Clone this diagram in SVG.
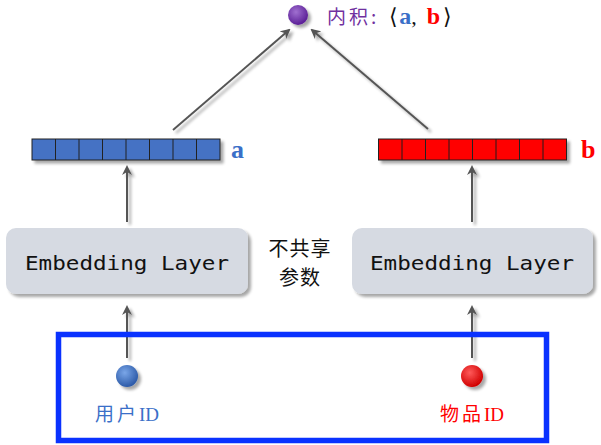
<svg xmlns="http://www.w3.org/2000/svg" width="601" height="445" viewBox="0 0 601 445">
<style>
.cell{stroke:#222;stroke-width:1}
.conn{stroke:#555;stroke-width:2;fill:none;marker-end:url(#ah)}
.emb{fill:#d6dae2;}
.embt{font-family:"DejaVu Sans Mono","Liberation Mono",monospace;font-size:20px;fill:#111}
.cjk{font-family:"Noto Sans CJK SC",sans-serif}
.lbl{font-family:"Liberation Serif",serif;font-weight:bold;font-size:26px}
</style>
<defs>
<filter id="sh" x="-20%" y="-20%" width="150%" height="160%">
<feGaussianBlur in="SourceAlpha" stdDeviation="1.5"/>
<feOffset dx="3" dy="3" result="b"/>
<feComponentTransfer><feFuncA type="linear" slope="0.35"/></feComponentTransfer>
<feMerge><feMergeNode/><feMergeNode in="SourceGraphic"/></feMerge>
</filter>
<marker id="ah" viewBox="0 0 10 10" refX="8" refY="5" markerWidth="5" markerHeight="5" orient="auto" markerUnits="strokeWidth">
<path d="M0,0 L10,5 L0,10 L3,5 z" fill="#555"/>
</marker>
<radialGradient id="gp" cx="40%" cy="35%" r="65%"><stop offset="0" stop-color="#a070d0"/><stop offset="1" stop-color="#5a1e96"/></radialGradient>
<radialGradient id="gb" cx="40%" cy="35%" r="65%"><stop offset="0" stop-color="#7aa6e8"/><stop offset="1" stop-color="#2c5aa8"/></radialGradient>
<radialGradient id="gr" cx="40%" cy="35%" r="65%"><stop offset="0" stop-color="#ff5a5a"/><stop offset="1" stop-color="#d00000"/></radialGradient>
</defs>

<g id="connectors" filter="url(#sh)">
<line class="conn" x1="173" y1="130" x2="289" y2="30"/>
<line class="conn" x1="428" y1="129" x2="312" y2="30"/>
<line class="conn" x1="127" y1="222" x2="127" y2="167"/>
<line class="conn" x1="472" y1="222" x2="472" y2="167"/>
<line class="conn" x1="127" y1="358" x2="127" y2="307"/>
<line class="conn" x1="472" y1="358" x2="472" y2="307"/>
</g>

<g id="inner-product">
<circle cx="298" cy="15" r="10" fill="url(#gp)" filter="url(#sh)"/>
<text x="327" y="24" font-size="19"><tspan class="cjk" fill="#7030a0" letter-spacing="3">内积:</tspan><tspan font-family="Liberation Serif,serif" fill="#111" font-size="22" dx="10">⟨</tspan><tspan font-family="Liberation Serif,serif" font-weight="bold" fill="#3a6fc8" font-size="24" dx="1">a</tspan><tspan font-family="Liberation Serif,serif" fill="#111" font-size="22">,</tspan><tspan font-family="Liberation Serif,serif" font-weight="bold" fill="#ff0000" font-size="24" dx="10">b</tspan><tspan font-family="Liberation Serif,serif" fill="#111" font-size="22" dx="3">⟩</tspan></text>
</g>

<g id="vector-a" filter="url(#sh)">
<rect x="32" y="139" width="188" height="21" fill="#4472c4" class="cell"/>
<path d="M55.5,139V160M79,139V160M102.5,139V160M126,139V160M149.5,139V160M173,139V160M196.5,139V160" stroke="#222" stroke-width="1"/>
</g>
<text class="lbl" x="231" y="158" fill="#3a6fc8">a</text>

<g id="vector-b" filter="url(#sh)">
<rect x="378.5" y="139" width="188" height="21" fill="#ff0000" class="cell"/>
<path d="M402,139V160M425.5,139V160M449,139V160M472.5,139V160M496,139V160M519.5,139V160M543,139V160" stroke="#222" stroke-width="1"/>
</g>
<text class="lbl" x="581" y="158" fill="#ff0000">b</text>

<g id="embedding-left">
<rect class="emb" x="6" y="228" width="242" height="66" rx="10" filter="url(#sh)"/>
<text class="embt" x="127" y="270" text-anchor="middle" textLength="204" lengthAdjust="spacingAndGlyphs">Embedding Layer</text>
</g>
<g id="embedding-right">
<rect class="emb" x="352" y="228" width="241" height="66" rx="10" filter="url(#sh)"/>
<text class="embt" x="472" y="270" text-anchor="middle" textLength="204" lengthAdjust="spacingAndGlyphs">Embedding Layer</text>
</g>

<g id="no-share">
<text class="cjk" x="300" y="256" font-size="20" text-anchor="middle" fill="#111" letter-spacing="1">不共享</text>
<text class="cjk" x="300" y="285" font-size="20" text-anchor="middle" fill="#111" letter-spacing="1">参数</text>
</g>

<g id="input-box">
<rect x="58.5" y="334.5" width="488" height="106" fill="none" stroke="#0a32ff" stroke-width="5.5"/>
</g>

<g id="user-id">
<circle cx="127" cy="376" r="11" fill="url(#gb)" filter="url(#sh)"/>
<text class="cjk" x="95" y="421" font-size="19" fill="#3a6fc8" letter-spacing="3">用户<tspan font-family="Liberation Serif,serif" letter-spacing="0">ID</tspan></text>
</g>
<g id="item-id">
<circle cx="472" cy="376" r="11" fill="url(#gr)" filter="url(#sh)"/>
<text class="cjk" x="440" y="421" font-size="19" fill="#ff0000" letter-spacing="3">物品<tspan font-family="Liberation Serif,serif" letter-spacing="0">ID</tspan></text>
</g>
</svg>
